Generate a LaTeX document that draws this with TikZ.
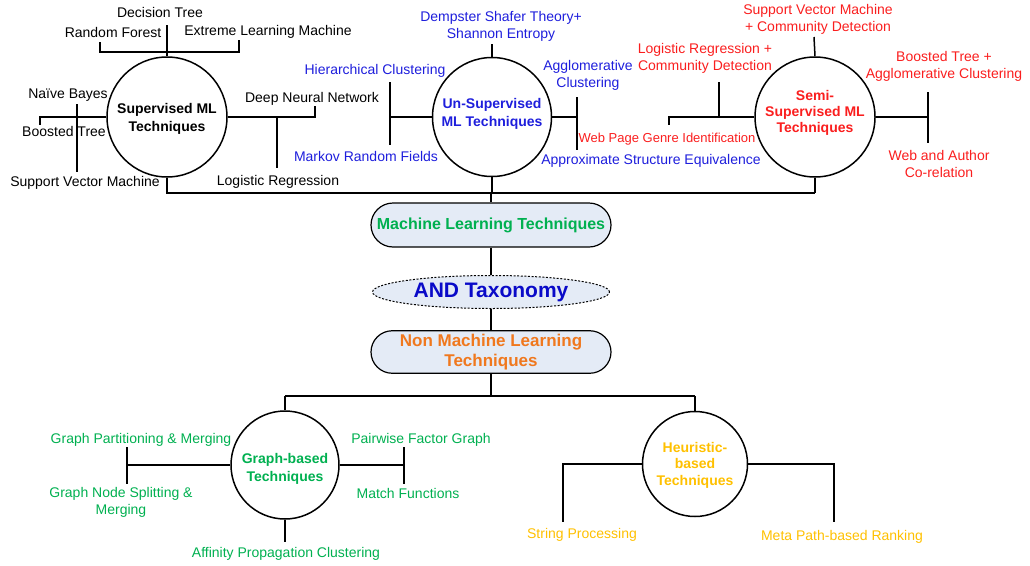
\documentclass[tikz,border=0pt]{standalone}
\usepackage{fontspec}
\setmainfont{Liberation Sans}
\usetikzlibrary{shapes.geometric,shapes.misc}
\definecolor{myblue}{RGB}{30,30,220}
\definecolor{andblue}{RGB}{10,10,200}
\definecolor{myred}{RGB}{250,30,30}
\definecolor{mygreen}{RGB}{0,176,80}
\definecolor{myorange}{RGB}{240,120,30}
\definecolor{mygold}{RGB}{255,192,0}
\definecolor{boxfill}{RGB}{228,235,246}
\begin{document}
\begin{tikzpicture}[x=1pt,y=-1pt,
  lbl/.style={font=\fontsize{14}{17}\selectfont, inner sep=0pt, align=center},
  ttl/.style={font=\bfseries\fontsize{14}{17.5}\selectfont, align=center, inner sep=0pt},
  circ/.style={circle, draw, line width=1.5pt, minimum size=120pt, inner sep=0pt},
  ln/.style={line width=1.5pt},
  pill/.style={rounded rectangle, draw, line width=1.2pt, fill=boxfill, minimum width=240pt, minimum height=44pt, inner xsep=0pt, align=center, font=\bfseries\fontsize{16}{20}\selectfont}]
\useasboundingbox (0,0) rectangle (1030,565);

% ---------- central column ----------
\node[pill, text=mygreen] (ml) at (491,225) {Machine Learning Techniques};
\node[ellipse, draw, dash pattern=on 2pt off 1.6pt, line width=1pt, fill=boxfill, minimum width=237pt, minimum height=33pt, inner sep=0pt, text=andblue, font=\bfseries\fontsize{21}{24}\selectfont] (and) at (491,292) {AND Taxonomy};
\node[pill, minimum height=40pt, text=myorange, font=\bfseries\fontsize{17}{20}\selectfont] (nml) at (491,352) {Non Machine Learning\\Techniques};

% ---------- circles ----------
\node[circ] (sup) at (167,117) {};
\node[circ, minimum size=119pt] (uns) at (492,117) {};
\node[circ] (semi) at (815,117) {};
\node[circ, minimum size=108pt] (gr) at (285,465) {};
\node[circ, minimum size=105pt] (heu) at (695,464) {};

\node[ttl] (supt) at (167,119) {Supervised ML\\Techniques};
\node[ttl, text=myblue] (unst) at (492,114) {Un-Supervised\\ML Techniques};
\node[ttl, text=myred, font=\bfseries\fontsize{14}{16.3}\selectfont] (semit) at (815,113) {Semi-\\Supervised ML\\Techniques};
\node[ttl, text=mygreen] (grt) at (285,469) {Graph-based\\Techniques};
\node[ttl, text=mygold, font=\bfseries\fontsize{14}{16.5}\selectfont] (heut) at (695,465) {Heuristic-\\based\\Techniques};

% ---------- coordinates ----------
\coordinate (busL) at (167,193);
\coordinate (busM) at (491,193);
\coordinate (busR) at (815,193);
\coordinate (bus2M) at (491,396);
\coordinate (bus2L) at (285,396);
\coordinate (bus2R) at (695,396);

% ---------- top bus and central connectors ----------
\draw[ln] (sup.south) -- (busL) -- (busR);
\draw[ln] (uns.south) -- (uns.south|-busM);
\draw[ln] (semi.south) -- (busR);
\draw[ln] (busM) -- (ml.north);
\draw[ln] (ml.south) -- (and.north);
\draw[ln] (and.south) -- (nml.north);
\draw[ln] (nml.south) -- (bus2M);
\draw[ln] (bus2L) -- (bus2R);
\draw[ln] (bus2L) -- (gr.north);
\draw[ln] (bus2R) -- (heu.north);

% ---------- Supervised ----------
\coordinate (sT) at (167,25);
\coordinate (sRF) at (100,42);
\coordinate (sELM) at (239,40);
\coordinate (sL) at (40,125);
\coordinate (sNB) at (77,104);
\coordinate (sSVM) at (77,172);
\coordinate (sDNN) at (315,106);
\coordinate (sLRt) at (277,117);
\coordinate (sLR) at (277,168);
\draw[ln] (sup.north) -- (sT);
\draw[ln] (sRF) -- ++(0,10) -| (sELM);
\draw[ln] (sup.west) -| (sL);
\draw[ln] (sNB) -- (sSVM);
\draw[ln] (sup.east) -| (sDNN);
\draw[ln] (sLRt) -- (sLR);

\node[lbl] (dt) at (160,12) {Decision Tree};
\node[lbl] (rf) at (113,32) {Random Forest};
\node[lbl] (elm) at (268,32) {Extreme Learning Machine};
\node[lbl] (nb) at (68,95) {Naïve Bayes};
\node[lbl] (bt) at (64,131) {Boosted Tree};
\node[lbl] (svm) at (85,183) {Support Vector Machine};
\node[lbl] (dnn) at (312,99) {Deep Neural Network};
\node[lbl] (lr) at (278,182) {Logistic Regression};

% ---------- Un-Supervised ----------
\coordinate (uT) at (492,44);
\coordinate (uL) at (390,117);
\coordinate (uLa) at (390,82);
\coordinate (uLb) at (390,145);
\coordinate (uR) at (577,117);
\coordinate (uRa) at (577,97);
\coordinate (uRb) at (577,150);
\draw[ln] (uns.north) -- (uT);
\draw[ln] (uns.west) -- (uL);
\draw[ln] (uLa) -- (uLb);
\draw[ln] (uns.east) -- (uR);
\draw[ln] (uRa) -- (uRb);

\node[lbl, text=myblue] (dst) at (501,26) {Dempster Shafer Theory+\\Shannon Entropy};
\node[lbl, text=myblue] (hc) at (375,71) {Hierarchical Clustering};
\node[lbl, text=myblue] (mrf) at (366,156) {Markov Random Fields};
\node[lbl, text=myblue] (ac) at (588,75.5) {Agglomerative\\Clustering};
\node[lbl, text=myblue] (ase) at (651,161) {Approximate Structure Equivalence};

% ---------- Semi-Supervised ----------
\coordinate (smT) at (814,37);
\coordinate (smL) at (669,125);
\coordinate (smLRb) at (719,117);
\coordinate (smLR) at (719,82);
\coordinate (smR) at (928,117);
\coordinate (smRa) at (928,92);
\coordinate (smRb) at (928,143);
\draw[ln] (semi.north) -- (smT);
\draw[ln] (semi.west) -| (smL);
\draw[ln] (smLRb) -- (smLR);
\draw[ln] (semi.east) -- (smR);
\draw[ln] (smRa) -- (smRb);

\node[lbl, text=myred] (svmcd) at (818,19.5) {Support Vector Machine\\+ Community Detection};
\node[lbl, text=myred] (lrcd) at (705,58.5) {Logistic Regression +\\Community Detection};
\node[lbl, text=myred, font=\fontsize{13}{16}\selectfont] (wpg) at (667,139) {Web Page Genre Identification};
\node[lbl, text=myred] (btac) at (944,66.5) {Boosted Tree +\\Agglomerative Clustering};
\node[lbl, text=myred] (wac) at (939,163.5) {Web and Author\\Co-relation};

% ---------- Graph-based ----------
\coordinate (gL) at (127,465);
\coordinate (gLa) at (127,447);
\coordinate (gLb) at (127,484);
\coordinate (gR) at (404,465);
\coordinate (gRa) at (404,447);
\coordinate (gRb) at (404,484);
\coordinate (gB) at (285,542);
\draw[ln] (gr.west) -- (gL);
\draw[ln] (gLa) -- (gLb);
\draw[ln] (gr.east) -- (gR);
\draw[ln] (gRa) -- (gRb);
\draw[ln] (gr.south) -- (gB);

\node[lbl, text=mygreen] (gpm) at (141,440) {Graph Partitioning \& Merging};
\node[lbl, text=mygreen] (gns) at (121,502.5) {Graph Node Splitting \&\\Merging};
\node[lbl, text=mygreen] (pfg) at (421,440) {Pairwise Factor Graph};
\node[lbl, text=mygreen] (mf) at (408,493) {Match Functions};
\node[lbl, text=mygreen] (apc) at (286,554) {Affinity Propagation Clustering};

% ---------- Heuristic ----------
\coordinate (hL) at (563,522);
\coordinate (hR) at (834,522);
\draw[ln] (heu.west) -| (hL);
\draw[ln] (heu.east) -| (hR);

\node[lbl, text=mygold] (sp) at (582,535) {String Processing};
\node[lbl, text=mygold] (mpr) at (842,537) {Meta Path-based Ranking};
\end{tikzpicture}
\end{document}
